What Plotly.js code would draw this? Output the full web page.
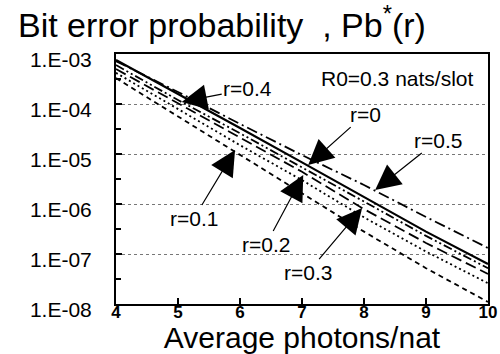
<!DOCTYPE html>
<html>
<head>
<meta charset="utf-8">
<script src="https://cdn.plot.ly/plotly-3.0.1.min.js"></script>
<style>html,body{margin:0;padding:0;background:#fff;}#chart{width:500px;height:354px;}</style>
</head>
<body>
<div id="chart"></div>
<script>
// Average photons/nat
const photons = [4, 5, 6, 7, 8, 9, 10];
// Bit error probability Pb*(r) for each r
const pb_r00 = [7.6e-4, 1.6e-4, 3.3e-5, 6.8e-6, 1.4e-6, 2.8e-7, 6.3e-8];
const pb_r01 = [3.3e-4, 5.6e-5, 9.5e-6, 1.66e-6, 2.8e-7, 5.2e-8, 1.1e-8];
const pb_r02 = [4.2e-4, 7.9e-5, 1.5e-5, 3.0e-6, 5.4e-7, 1.12e-7, 2.6e-8];
const pb_r03 = [5.0e-4, 1.02e-4, 2.1e-5, 4.4e-6, 7.9e-7, 1.66e-7, 4.0e-8];
const pb_r04 = [6.0e-4, 1.2e-4, 2.6e-5, 5.5e-6, 1.12e-6, 2.3e-7, 5.2e-8];
const pb_r05 = [7.2e-4, 1.74e-4, 4.0e-5, 9.5e-6, 2.4e-6, 5.5e-7, 1.32e-7];
const seriesNames = ['r=0', 'r=0.1', 'r=0.2', 'r=0.3', 'r=0.4', 'r=0.5'];
const yTickVals = [1e-3, 1e-4, 1e-5, 1e-6, 1e-7, 1e-8];
const yTickText = ['1.E-03', '1.E-04', '1.E-05', '1.E-06', '1.E-07', '1.E-08'];
const yMinorVals = [3.162e-4, 3.162e-5, 3.162e-6, 3.162e-7, 3.162e-8];
// label arrow tips (photons, probability)
const tipX = [7.10, 5.92, 7.02, 7.97, 5.06, 8.18];
const tipY = [6.0e-6, 1.2e-5, 3.8e-6, 8.3e-7, 1.1e-4, 1.9e-6];

const allSeries = [pb_r00, pb_r01, pb_r02, pb_r03, pb_r04, pb_r05];
const dashStyles = ['solid', '5px,4px', '2px,3px', '11px,5px', '9px,3px,2px,3px,2px,3px', '11px,4px,2px,4px'];
const labelOffsets = [[57, -51], [-41, 68], [-37, 69], [-54, 64], [66, -13], [63, -50]];

const FONT = 'Liberation Sans, Arial, Helvetica, sans-serif';

const traces = allSeries.map((ys, i) => ({
  x: photons, y: ys, type: 'scatter', mode: 'lines', name: seriesNames[i],
  line: {color: '#000', width: i === 0 ? 2.2 : 1.8, dash: dashStyles[i]}, showlegend: false
}));

const annotations = seriesNames.map((n, i) => ({
  x: tipX[i], y: Math.log10(tipY[i]), xref: 'x', yref: 'y',
  text: n, showarrow: true, arrowhead: 2, arrowsize: 4.2, arrowwidth: 1.2,
  arrowcolor: '#000', ax: labelOffsets[i][0], ay: labelOffsets[i][1],
  font: {family: FONT, size: 21, color: '#000'}
}));
annotations.push({
  xref: 'paper', yref: 'paper', x: 0.757, y: 0.904, xanchor: 'center', yanchor: 'middle',
  text: 'R0=0.3 nats/slot', showarrow: false,
  font: {family: FONT, size: 21, color: '#000'}
});

const layout = {
  width: 500, height: 354,
  margin: {l: 116, r: 12, t: 54, b: 50},
  paper_bgcolor: '#fff', plot_bgcolor: '#fff',
  title: {
    text: 'Bit error probability&nbsp;&nbsp;, Pb<sup>*</sup>(r)',
    xref: 'container', yref: 'container', x: 0.036, xanchor: 'left', y: 0.93, yanchor: 'middle',
    font: {family: FONT, size: 34, color: '#000'}
  },
  xaxis: {
    range: [4, 10], tickvals: photons, ticks: 'inside', ticklen: 6, tickwidth: 1.5, tickcolor: '#000',
    showline: true, linecolor: '#000', linewidth: 2, mirror: true, showgrid: false, zeroline: false,
    ticklabelstandoff: -8,
    tickfont: {family: FONT, size: 17, color: '#000', weight: 'bold'},
    title: {text: 'Average photons/nat', font: {family: FONT, size: 30, color: '#000'}, standoff: 6}
  },
  yaxis: {
    type: 'log', range: [-8, -3], tickvals: yTickVals, ticktext: yTickText,
    ticks: 'inside', ticklen: 6, tickwidth: 1.5, tickcolor: '#000',
    showline: true, linecolor: '#000', linewidth: 2, mirror: true,
    showgrid: true, gridcolor: '#777', griddash: 'dot', gridwidth: 1, zeroline: false,
    ticklabelstandoff: 18, ticklabelshift: 6,
    tickfont: {family: FONT, size: 21, color: '#000'},
    minor: {tickvals: yMinorVals, ticks: 'inside', ticklen: 5, tickcolor: '#000', showgrid: false}
  },
  annotations: annotations
};

Plotly.newPlot('chart', traces, layout, {staticPlot: true, displayModeBar: false});
</script>
</body>
</html>
